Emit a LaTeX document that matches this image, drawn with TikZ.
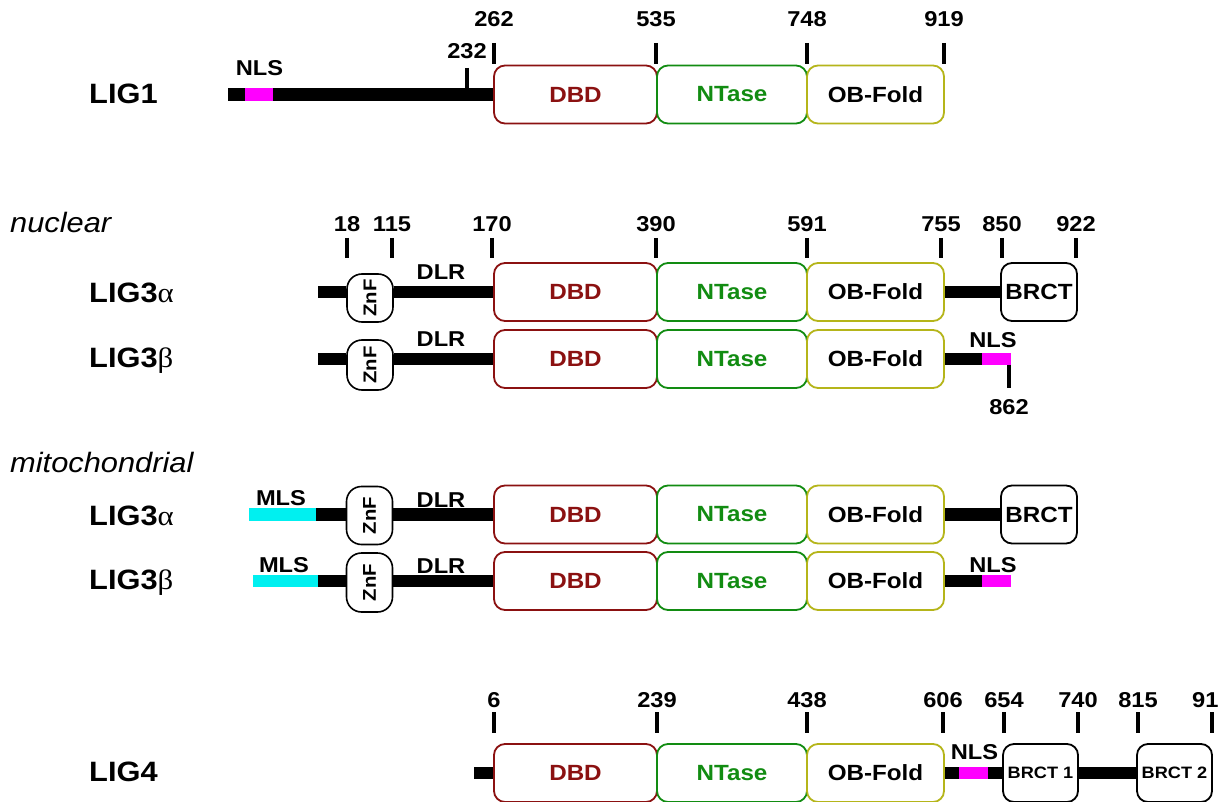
\documentclass[tikz,border=0pt]{standalone}
\usepackage{fontspec}
\setmainfont{Liberation Sans}[FakeStretch=1.1]
\newfontfamily\grk{Liberation Serif}[FakeStretch=1.1]
\usetikzlibrary{positioning}
\definecolor{dbdred}{HTML}{8B1111}
\definecolor{ntgreen}{HTML}{128C12}
\definecolor{obolive}{HTML}{B5B51A}
\definecolor{nlsmag}{HTML}{FF00FF}
\definecolor{mlscyan}{HTML}{00F0F0}
\tikzset{
  dom/.style={draw,fill=white,rounded corners=11pt,line width=1.8pt,minimum height=58pt,
    inner sep=0pt,font=\fontsize{22}{24}\selectfont\bfseries},
  dbdbox/.style={dom,draw=dbdred,text=dbdred,minimum width=163pt},
  ntbox/.style={dom,draw=ntgreen,text=ntgreen,minimum width=150pt},
  obbox/.style={dom,draw=obolive,minimum width=137pt},
  brctbox/.style={dom,draw=black,minimum width=76pt},
  znfbox/.style={draw,fill=white,rounded corners=15pt,line width=1.6pt,minimum width=46pt,
    inner sep=0pt,font=\fontsize{18.5}{20}\selectfont\bfseries},
  bar/.style={line width=12.5pt},
  tick/.style={line width=3.2pt},
  num/.style={inner sep=0pt,font=\fontsize{21.5}{24}\selectfont\bfseries},
  lbl/.style={inner sep=0pt,font=\fontsize{21.5}{24}\selectfont\bfseries},
  lig/.style={inner sep=0pt,anchor=base west,font=\fontsize{28}{30}\selectfont\bfseries},
  cmp/.style={inner sep=0pt,anchor=base west,font=\fontsize{28}{30}\selectfont\itshape},
  seg/.style={inner sep=0pt,minimum height=12.5pt},
}
\begin{document}
\begin{tikzpicture}[x=1pt,y=-1pt]
 \useasboundingbox[fill=white] (0,0) rectangle (1225,802);
 \clip (0,0) rectangle (1225,802);
 \foreach \r/\y in {1/94.5,2/292,3/359,4/514.5,5/581,6/773}
   {\node[dbdbox] (dbd\r) at (575.5,\y) {DBD};
    \node[ntbox] (nt\r) at (732,\y) {NTase};
    \node[obbox] (ob\r) at (875.5,\y) {OB-Fold};}
 % LIG1
 \node[lig] (lig1) at (89,103.5) {LIG1};
 \coordinate (s1) at (228,94.5);
 \draw[bar] (s1) -- (dbd1.west);
 \node[seg,fill=nlsmag,minimum width=28pt] (nls1) at (259,94.5) {};
 \node[lbl] (nlst1) at (259.5,68.5) {NLS};
 \foreach \x/\t in {494/262,656/535,807/748,944/919}
   {\draw[tick] (\x,43) -- (\x,64); \node[num] (a\t) at (\x,19.5) {\t};}
 \draw[tick] (467,68) -- (467,88); \node[num] (a232) at (467,51) {232};
 % LIG3 nuclear
 \node[cmp] (nuc) at (10,233) {nuclear};
 \foreach \x/\t in {347/18,392/115,492/170,656/390,807/591,941/755,1002/850,1076/922}
   {\draw[tick] (\x,238) -- (\x,258); \node[num] (b\t) at (\x,224.5) {\t};}
 \node[lig] (lig3a) at (89,302) {LIG3{\grk\mdseries α}};
 \node[znfbox,minimum height=48pt] (znf2) at (370,298) {\rotatebox{90}{ZnF}};
 \node[brctbox] (brct2) at (1039,292) {BRCT};
 \coordinate (s2) at (318,292);
 \draw[bar] (s2) -- (s2 -| znf2.west);
 \draw[bar] (dbd2.west -| znf2.east) -- (dbd2.west);
 \draw[bar] (ob2.east) -- (brct2.west);
 \node[lbl] (dlr2) at (441,272) {DLR};
 \node[lig] (lig3b) at (89,367) {LIG3{\grk\mdseries β}};
 \node[znfbox,minimum height=50pt] (znf3) at (370,365) {\rotatebox{90}{ZnF}};
 \node[seg,fill=nlsmag,minimum width=29pt] (nls3) at (996.5,359) {};
 \coordinate (s3) at (318,359);
 \draw[bar] (s3) -- (s3 -| znf3.west);
 \draw[bar] (dbd3.west -| znf3.east) -- (dbd3.west);
 \draw[bar] (ob3.east) -- (nls3.west);
 \node[lbl] (dlr3) at (441,339) {DLR};
 \node[lbl] (nlst3) at (993,340) {NLS};
 \draw[tick] (1009,365) -- (1009,388); \node[num] (b862) at (1009,407) {862};
 % LIG3 mitochondrial
 \node[cmp] (mito) at (10,472) {mitochondrial};
 \node[lig] (lig3am) at (89,525) {LIG3{\grk\mdseries α}};
 \node[seg,fill=mlscyan,minimum width=67pt] (mls4) at (282.5,514.5) {};
 \node[znfbox,minimum height=58pt] (znf4) at (369.5,515.5) {\rotatebox{90}{ZnF}};
 \node[brctbox] (brct4) at (1039,514.5) {BRCT};
 \draw[bar] (mls4.east) -- (mls4.east -| znf4.west);
 \draw[bar] (dbd4.west -| znf4.east) -- (dbd4.west);
 \draw[bar] (ob4.east) -- (brct4.west);
 \node[lbl] (mlst4) at (281,498.5) {MLS};
 \node[lbl] (dlr4) at (441,500) {DLR};
 \node[lig] (lig3bm) at (89,589) {LIG3{\grk\mdseries β}};
 \node[seg,fill=mlscyan,minimum width=65pt] (mls5) at (285.5,581) {};
 \node[znfbox,minimum height=59pt] (znf5) at (369.5,582.5) {\rotatebox{90}{ZnF}};
 \node[seg,fill=nlsmag,minimum width=29pt] (nls5) at (996.5,581) {};
 \draw[bar] (mls5.east) -- (mls5.east -| znf5.west);
 \draw[bar] (dbd5.west -| znf5.east) -- (dbd5.west);
 \draw[bar] (ob5.east) -- (nls5.west);
 \node[lbl] (mlst5) at (284,565) {MLS};
 \node[lbl] (dlr5) at (441,566) {DLR};
 \node[lbl] (nlst5) at (993,565) {NLS};
 % LIG4
 \node[lig] (lig4) at (89,781) {LIG4};
 \foreach \x/\t in {494/6,657/239,807/438,943/606,1004/654,1078/740,1138/815}
   {\draw[tick] (\x,712) -- (\x,733); \node[num] (c\t) at (\x,700.5) {\t};}
 \draw[tick] (1212,712) -- (1212,733); \node[num,anchor=west] (c91) at (1192,700.5) {91};
 \node[brctbox,minimum width=75pt,font=\fontsize{16.5}{18}\selectfont\bfseries] (brct6a) at (1040.5,773) {BRCT 1};
 \node[brctbox,minimum width=75pt,font=\fontsize{16.5}{18}\selectfont\bfseries] (brct6b) at (1174.5,773) {BRCT 2};
 \coordinate (s6) at (474,773);
 \draw[bar] (s6) -- (dbd6.west);
 \draw[bar] (ob6.east) -- (brct6a.west);
 \draw[bar] (brct6a.east) -- (brct6b.west);
 \node[seg,fill=nlsmag,minimum width=29pt] (nls6) at (973.5,773) {};
 \node[lbl] (nlst6) at (974.5,752) {NLS};
\end{tikzpicture}
\end{document}
